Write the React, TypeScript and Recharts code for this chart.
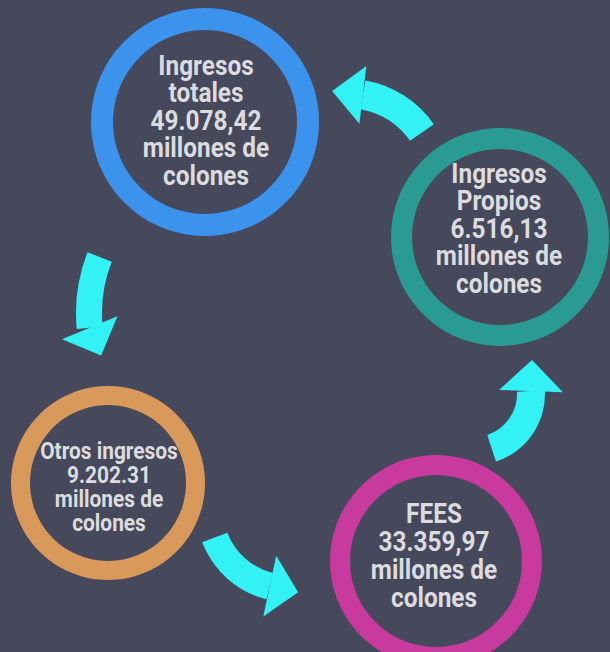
import React from 'react';
import { PieChart, Pie, Customized, Polygon } from 'recharts';

// ---- data ----
const nodeNames = ['Ingresos totales', 'Ingresos Propios', 'Otros ingresos', 'FEES'];
const nodeValues = ['49.078,42', '6.516,13', '9.202.31', '33.359,97'];
const nodeUnit = 'millones de colones';
const nodeLines = [
  ['Ingresos', 'totales', '49.078,42', 'millones de', 'colones'],
  ['Ingresos', 'Propios', '6.516,13', 'millones de', 'colones'],
  ['Otros ingresos', '9.202.31', 'millones de', 'colones'],
  ['FEES', '33.359,97', 'millones de', 'colones'],
];
// flow: from -> to (indices into nodeNames)
const flowFrom = [0, 2, 3, 1];
const flowTo = [2, 3, 1, 0];

// ---- layout & styles ----
const W = 610;
const H = 652;
const BG = '#46495c';
const TEXT_COLOR = '#dcdcdf';
const ARROW_COLOR = '#33f2f6';
const FONT = "Roboto, 'DejaVu Sans Condensed', sans-serif";
const TEXT_SCALE_X = 0.87;

const ringColors = ['#3b93ee', '#2a9b93', '#d8995b', '#c93a9e'];
const ringCx = [205, 500, 108, 436];
const ringCy = [122, 237, 483, 561];
const ringOuter = [114, 109, 97, 106];
const ringInner = [92, 88, 78, 86];
const labelX = [206, 499, 109, 434];
const labelFirstBaseline = [75, 183, 459, 523];
const labelLineHeight = [27.5, 27.5, 24, 28];
const labelFontSize = [28, 28, 24, 28];

// arrows (one per flow), arc bodies + heads
const arrowCx = [242, 289, 474, 347];
const arrowCy = [313, 509, 394, 185];
const arrowInner = [140, 66, 43, 77];
const arrowOuter = [166, 93, 71, 106];
const arrowStart = [158.5, -159, -72, 35];
const arrowEnd = [185.5, -104, 3, 80];
const headHalf = [30, 31, 32, 29];
const headLen = [30, 29, 31, 31];
const headTwist = [-17, -2, 5, -3];

const RAD = Math.PI / 180;

function headPoints(i: number) {
  const cx = arrowCx[i];
  const cy = arrowCy[i];
  const rm = (arrowInner[i] + arrowOuter[i]) / 2;
  const a = arrowEnd[i] * RAD;
  const bx = cx + rm * Math.cos(a);
  const by = cy - rm * Math.sin(a);
  const rx = Math.cos(a);
  const ry = -Math.sin(a);
  const tx = -Math.sin(a);
  const ty = -Math.cos(a);
  const raw = [
    { x: bx - rx * headHalf[i], y: by - ry * headHalf[i] },
    { x: bx + tx * headLen[i], y: by + ty * headLen[i] },
    { x: bx + rx * headHalf[i], y: by + ry * headHalf[i] },
  ];
  const t = headTwist[i] * RAD;
  return raw.map((p) => {
    const dx = p.x - bx;
    const dy = p.y - by;
    return {
      x: bx + dx * Math.cos(t) - dy * Math.sin(t),
      y: by + dx * Math.sin(t) + dy * Math.cos(t),
    };
  });
}

const ArrowHeads = () => (
  <g>
    {flowFrom.map((_, i) => (
      <Polygon key={`h${i}`} points={headPoints(i)} fill={ARROW_COLOR} stroke="none" />
    ))}
  </g>
);

const Labels = () => (
  <g>
    {nodeLines.map((lines, n) => (
      <g key={`t${n}`} transform={`translate(${labelX[n]} 0) scale(${TEXT_SCALE_X} 1)`}>
        <text
          textAnchor="middle"
          fill={TEXT_COLOR}
          fontFamily={FONT}
          fontWeight="bold"
          fontSize={labelFontSize[n]}
        >
          {lines.map((ln, k) => (
            <tspan key={k} x={0} y={labelFirstBaseline[n] + k * labelLineHeight[n]}>
              {ln}
            </tspan>
          ))}
        </text>
      </g>
    ))}
  </g>
);

export default function App() {
  return (
    <div
      style={{
        position: 'absolute',
        top: 0,
        left: 0,
        width: W,
        height: H,
        background: BG,
        overflow: 'hidden',
      }}
    >
      <PieChart width={W} height={H} margin={{ top: 0, right: 0, bottom: 0, left: 0 }}>
        {nodeNames.map((name, n) => (
          <Pie
            key={`ring${n}`}
            data={[{ name: `${name} ${nodeValues[n]} ${nodeUnit}`, value: 1 }]}
            dataKey="value"
            nameKey="name"
            cx={ringCx[n]}
            cy={ringCy[n]}
            innerRadius={ringInner[n]}
            outerRadius={ringOuter[n]}
            startAngle={90}
            endAngle={-270}
            fill={ringColors[n]}
            stroke="none"
            isAnimationActive={false}
          />
        ))}
        {flowFrom.map((f, i) => (
          <Pie
            key={`arrow${i}`}
            data={[{ name: `${nodeNames[f]} → ${nodeNames[flowTo[i]]}`, value: 1 }]}
            dataKey="value"
            nameKey="name"
            cx={arrowCx[i]}
            cy={arrowCy[i]}
            innerRadius={arrowInner[i]}
            outerRadius={arrowOuter[i]}
            startAngle={arrowStart[i]}
            endAngle={arrowEnd[i]}
            fill={ARROW_COLOR}
            stroke="none"
            isAnimationActive={false}
          />
        ))}
        <Customized component={ArrowHeads} />
        <Customized component={Labels} />
      </PieChart>
    </div>
  );
}
